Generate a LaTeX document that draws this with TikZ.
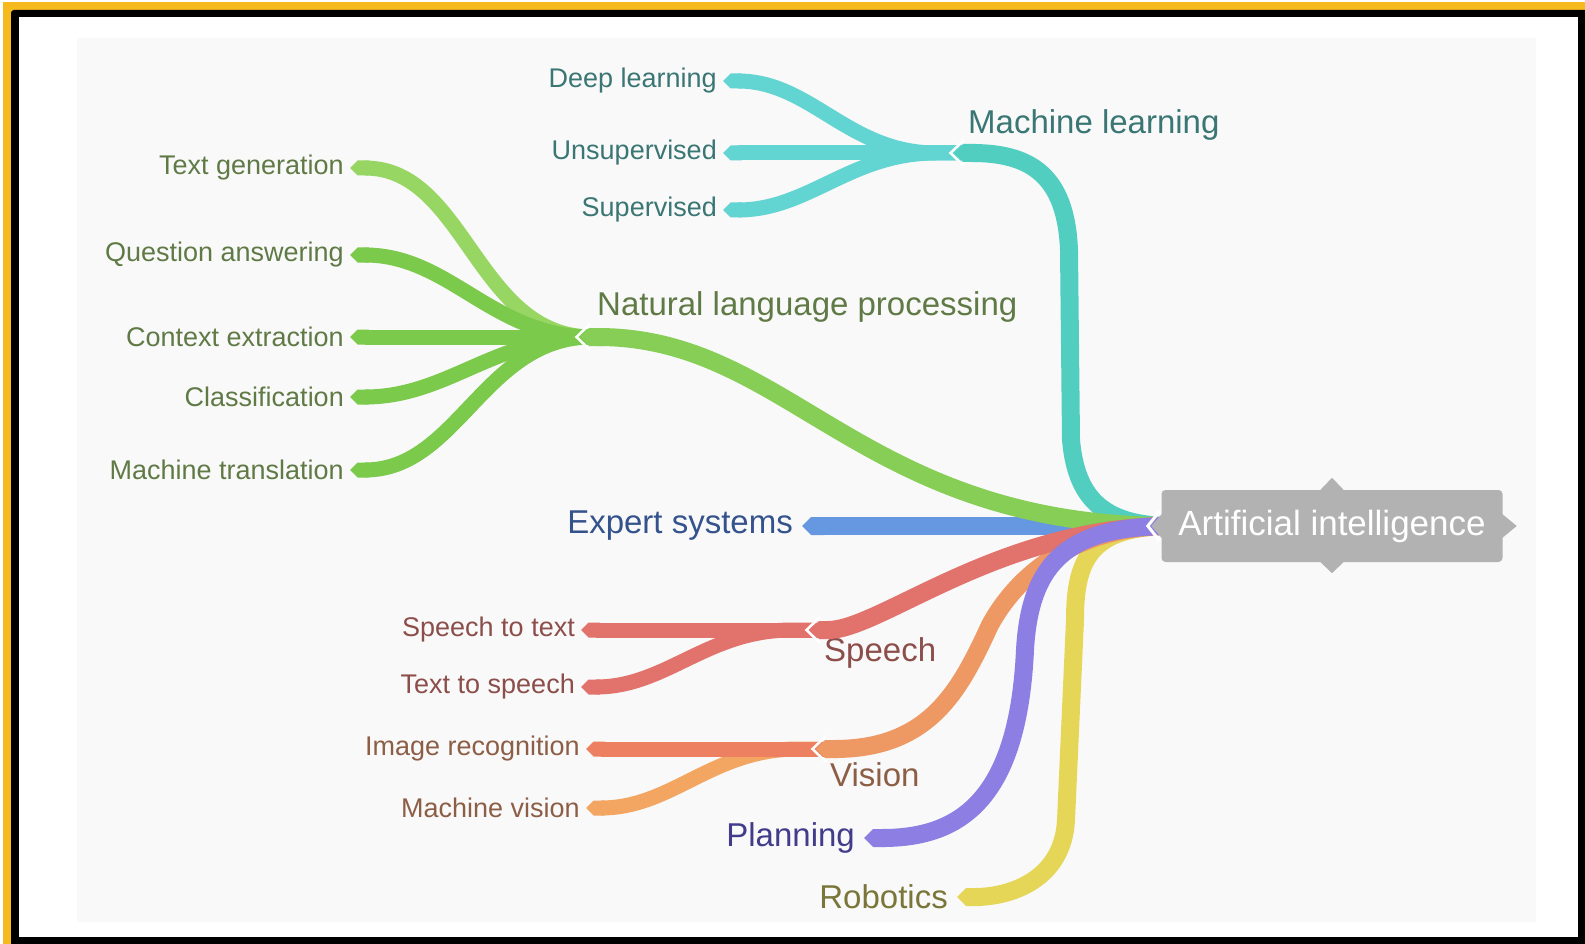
\documentclass[tikz,border=0pt]{standalone}
\usepackage{fontspec}
\setmainfont{Liberation Sans}
\usetikzlibrary{arrows.meta, calc}

\definecolor{frameorange}{RGB}{247,186,30}
\definecolor{canvasgray}{RGB}{249,249,249}
\definecolor{aigray}{RGB}{178,178,178}
\definecolor{mlline}{RGB}{82,206,192}
\definecolor{mltwig}{RGB}{98,212,210}
\definecolor{mltext}{RGB}{58,118,116}
\definecolor{nlpline}{RGB}{134,206,86}
\definecolor{nlptwig}{RGB}{124,202,76}
\definecolor{nlplight}{RGB}{152,214,100}
\definecolor{nlptext}{RGB}{96,122,70}
\definecolor{esline}{RGB}{102,152,226}
\definecolor{estext}{RGB}{52,82,140}
\definecolor{spline}{RGB}{226,114,108}
\definecolor{sptext}{RGB}{140,78,74}
\definecolor{viline}{RGB}{238,152,100}
\definecolor{vired}{RGB}{236,128,96}
\definecolor{vilight}{RGB}{242,166,98}
\definecolor{vitext}{RGB}{140,94,70}
\definecolor{plline}{RGB}{140,126,226}
\definecolor{pltext}{RGB}{66,60,140}
\definecolor{rbline}{RGB}{230,214,88}
\definecolor{rbtext}{RGB}{122,118,58}

\begin{document}
\begin{tikzpicture}[x=1pt, y=-1pt,
  leaf/.style={anchor=east, inner xsep=6pt, font=\fontsize{27}{31}\selectfont},
  topic/.style={anchor=west, inner xsep=2pt, font=\fontsize{33}{39}\selectfont},
  branch/.style={line width=18pt, -{Triangle Cap}},
  twig/.style={line width=15pt, -{Triangle Cap}},
  gapline/.style={white, line width=2.5pt}]
\useasboundingbox (0,0) rectangle (1585,944);
\fill[white] (0,0) rectangle (1585,944);
\fill[frameorange] (3,2) rectangle (1585,944);
\fill[black, rounded corners=3pt] (11,10) rectangle (1592,952);
\fill[white] (19,17) rectangle (1578,937);
\fill[canvasgray] (77,38) rectangle (1536,922);
%
\coordinate (root) at (1172,526);
\coordinate (ml) at (954,153);
\coordinate (nlp) at (580,337);
\coordinate (sp) at (810,630);
\coordinate (vi) at (816,749);
%
\node[leaf, text=mltext] (deep) at (723,81) {Deep learning};
\node[leaf, text=mltext] (unsup) at (723,153) {Unsupervised};
\node[leaf, text=mltext] (sup) at (723,210) {Supervised};
\node[leaf, text=nlptext] (tgen) at (350,168) {Text generation};
\node[leaf, text=nlptext] (qans) at (350,255) {Question answering};
\node[leaf, text=nlptext] (ctx) at (350,337) {Context extraction};
\node[leaf, text=nlptext] (cls) at (350,397) {Classification};
\node[leaf, text=nlptext] (mtr) at (350,470) {Machine translation};
\node[leaf, text=sptext] (stt) at (581,630) {Speech to text};
\node[leaf, text=sptext] (tts) at (581,687) {Text to speech};
\node[leaf, text=vitext] (imgr) at (586,749) {Image recognition};
\node[leaf, text=vitext] (mvis) at (586,808) {Machine vision};
\node[leaf, inner xsep=9pt, font=\fontsize{33}{39}\selectfont, text=estext] (es) at (802,526) {Expert systems};
\node[leaf, inner xsep=9pt, font=\fontsize{33}{39}\selectfont, text=pltext] (plan) at (864,838) {Planning};
\node[leaf, inner xsep=9pt, font=\fontsize{33}{39}\selectfont, text=rbtext] (robo) at (957,897) {Robotics};
%
\node[topic, text=mltext] (mllabel) at (966,125) {Machine learning};
\node[topic, text=nlptext] (nlplabel) at (595,307) {Natural language processing};
\node[topic, text=sptext] (splabel) at (822,653) {Speech};
\node[topic, text=vitext] (vilabel) at (828,775) {Vision};
%
\draw[twig, mltwig] ([xshift=12pt]ml) -- ++(-30,0) to[out=180, in=0] (deep.east);
\draw[twig, mltwig] ([xshift=12pt]ml) -- (unsup.east);
\draw[twig, mltwig] ([xshift=12pt]ml) -- ++(-30,0) to[out=180, in=0] (sup.east);
\draw[twig, nlplight] ([xshift=12pt]nlp) to[out=180, in=0] (tgen.east);
\draw[twig, nlptwig] ([xshift=12pt]nlp) to[out=180, in=0] (qans.east);
\draw[twig, nlptwig] ([xshift=12pt]nlp) -- (ctx.east);
\draw[twig, nlptwig] ([xshift=12pt]nlp) to[out=180, in=0] (cls.east);
\draw[twig, nlptwig] ([xshift=12pt]nlp) to[out=180, in=0] (mtr.east);
\draw[twig, spline] ([xshift=12pt]sp) -- ++(-30,0) to[out=180, in=0] (tts.east);
\draw[twig, spline] ([xshift=12pt]sp) -- (stt.east);
\draw[twig, vilight] ([xshift=12pt]vi) -- ++(-30,0) to[out=180, in=0] (mvis.east);
\draw[twig, vired] ([xshift=12pt]vi) -- (imgr.east);
%
\draw[gapline] ($(ml)+(10,-13)$) -- ($(ml)+(-3.5,0)$) -- ($(ml)+(10,13)$);
\draw[gapline] ($(nlp)+(10,-13)$) -- ($(nlp)+(-3.5,0)$) -- ($(nlp)+(10,13)$);
\draw[gapline] ($(sp)+(10,-13)$) -- ($(sp)+(-3.5,0)$) -- ($(sp)+(10,13)$);
\draw[gapline] ($(vi)+(10,-13)$) -- ($(vi)+(-3.5,0)$) -- ($(vi)+(10,13)$);
%
\draw[branch, mlline] (root) .. controls (1100,526) and (1076,495) .. (1071,440) -- (1069,250) .. controls (1066,175) and (1030,153) .. (ml);
\draw[branch, esline] (root) -- (es.east);
\draw[branch, nlpline] (root) .. controls (860,526) and (790,337) .. (nlp);
\draw[branch, rbline] (root) .. controls (1090,526) and (1075,560) .. (1075,620) -- (1066,820) .. controls (1063,880) and (1010,897) .. (robo.east);
\draw[branch, viline] (root) .. controls (1080,526) and (1020,570) .. (990,625) .. controls (960,690) and (930,749) .. (vi);
\draw[branch, spline] (root) .. controls (1000,526) and (880,630) .. (sp);
\draw[branch, plline] (root) .. controls (1070,526) and (1030,560) .. (1025,650) .. controls (1018,800) and (960,838) .. (plan.east);
%
\node[fill=aigray, text=white, rounded corners=4pt, minimum width=341pt, minimum height=72pt, font=\fontsize{35}{41}\selectfont] (ai) at (1332,526) {Artificial intelligence};
\draw[gapline, line width=3pt] ($(ai.west)+(-1.5,-15)$) -- ($(ai.west)+(-13.5,0)$) -- ($(ai.west)+(-1.5,15)$);
\fill[aigray] ($(ai.west)+(0.5,-12)$) -- ($(ai.west)+(-10,0)$) -- ($(ai.west)+(0.5,12)$) -- cycle;
\fill[aigray] ($(ai.north)+(-12,0.5)$) -- ($(ai.north)+(0,-12)$) -- ($(ai.north)+(12,0.5)$) -- cycle;
\fill[aigray] ($(ai.south)+(-12,-0.5)$) -- ($(ai.south)+(0,11)$) -- ($(ai.south)+(12,-0.5)$) -- cycle;
\fill[aigray] ($(ai.east)+(-0.5,-12)$) -- ($(ai.east)+(14,0)$) -- ($(ai.east)+(-0.5,12)$) -- cycle;
\end{tikzpicture}
\end{document}
